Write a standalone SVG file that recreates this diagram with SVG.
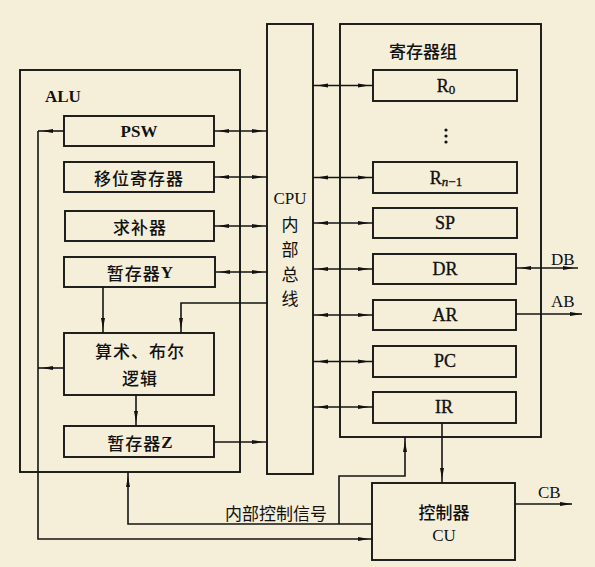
<svg xmlns="http://www.w3.org/2000/svg" width="595" height="567" viewBox="0 0 595 567">
<defs>
<marker id="ah" markerUnits="userSpaceOnUse" viewBox="0 0 15 6" markerWidth="15" markerHeight="6" refX="15" refY="3" orient="auto-start-reverse">
<path d="M0,1 L11,3 L0,5 z" fill="#111"/>
</marker>
<marker id="at" markerUnits="userSpaceOnUse" viewBox="0 0 12 6" markerWidth="12" markerHeight="6" refX="12" refY="3" orient="auto-start-reverse">
<path d="M0,1 L12,3 L0,5 z" fill="#111"/>
</marker>
<style>
.box{fill:none;stroke:#151515;stroke-width:1.9}
.ln{fill:none;stroke:#151515;stroke-width:1.6}
.d2{marker-start:url(#ah);marker-end:url(#ah)}
.d1{marker-end:url(#ah)}
.lat{font-family:"Liberation Serif","Times New Roman",serif;font-size:17px;fill:#111}
.cjk{font-family:"Noto Sans CJK SC","Noto Sans CJK JP",sans-serif;font-size:17px;fill:#111}
.bw{font-weight:bold}
.mw{font-weight:500}
.reg{font-size:18px;stroke:#111;stroke-width:0.35}
text{dominant-baseline:central}
</style>
</defs>
<rect x="0" y="0" width="595" height="567" fill="#f5efda"/>

<g id="alu">
<rect class="box" x="20" y="70" width="220" height="402"/>
<text class="lat bw" x="45" y="96">ALU</text>
</g>
<g id="psw">
<rect class="box" x="64" y="116" width="150" height="30"/>
<text class="lat bw" x="139" y="131" text-anchor="middle">PSW</text>
</g>
<g id="shift">
<rect class="box" x="64" y="162" width="150" height="30"/>
<text class="cjk mw" x="139" y="177" text-anchor="middle" letter-spacing="1">移位寄存器</text>
</g>
<g id="comp">
<rect class="box" x="65" y="211" width="149" height="30"/>
<text class="cjk mw" x="140" y="226" text-anchor="middle" letter-spacing="1">求补器</text>
</g>
<g id="tmpy">
<rect class="box" x="64" y="257" width="151" height="30"/>
<text x="140" y="272" text-anchor="middle"><tspan class="cjk mw" letter-spacing="1">暂存器</tspan><tspan class="lat bw">Y</tspan></text>
</g>
<g id="arith">
<rect class="box" x="64" y="333" width="150" height="62"/>
<text class="cjk mw" x="140" y="350" text-anchor="middle" letter-spacing="1">算术、布尔</text>
<text class="cjk mw" x="140" y="377" text-anchor="middle" letter-spacing="1">逻辑</text>
</g>
<g id="tmpz">
<rect class="box" x="64" y="426" width="150" height="31"/>
<text x="140" y="442" text-anchor="middle"><tspan class="cjk mw" letter-spacing="1">暂存器</tspan><tspan class="lat bw">Z</tspan></text>
</g>

<g id="bus">
<rect class="box" x="267" y="24" width="46" height="450"/>
<text class="lat" x="290" y="198" text-anchor="middle" font-size="19">CPU</text>
<text class="cjk" x="290" y="223" text-anchor="middle">内</text>
<text class="cjk" x="290" y="248" text-anchor="middle">部</text>
<text class="cjk" x="290" y="273" text-anchor="middle">总</text>
<text class="cjk" x="290" y="297" text-anchor="middle">线</text>
</g>

<g id="regs">
<rect class="box" x="340" y="24" width="201" height="413"/>
<text class="cjk mw" x="389" y="50" font-size="18">寄存器组</text>
</g>
<g id="r0">
<rect class="box" x="373" y="70" width="144" height="31"/>
<text class="lat reg" x="446" y="86" text-anchor="middle">R<tspan font-size="13" dy="3">0</tspan></text>
</g>
<g id="dots">
<circle cx="446" cy="130" r="1.6" fill="#111"/>
<circle cx="446" cy="136" r="1.6" fill="#111"/>
<circle cx="446" cy="142" r="1.6" fill="#111"/>
</g>
<g id="rn1">
<rect class="box" x="373" y="162" width="144" height="31"/>
<text class="lat reg" x="446" y="178" text-anchor="middle">R<tspan font-size="13" dy="3" font-style="italic">n</tspan><tspan font-size="13">−1</tspan></text>
</g>
<g id="sp">
<rect class="box" x="373" y="208" width="144" height="30"/>
<text class="lat reg" x="445" y="223" text-anchor="middle">SP</text>
</g>
<g id="dr">
<rect class="box" x="373" y="254" width="143" height="30"/>
<text class="lat reg" x="445" y="269" text-anchor="middle">DR</text>
</g>
<g id="ar">
<rect class="box" x="373" y="300" width="143" height="30"/>
<text class="lat reg" x="445" y="315" text-anchor="middle">AR</text>
</g>
<g id="pc">
<rect class="box" x="373" y="346" width="143" height="31"/>
<text class="lat reg" x="445" y="361" text-anchor="middle">PC</text>
</g>
<g id="ir">
<rect class="box" x="373" y="392" width="143" height="31"/>
<text class="lat reg" x="444" y="407" text-anchor="middle">IR</text>
</g>

<g id="cu">
<rect class="box" x="372" y="483" width="143" height="77"/>
<text class="cjk mw" x="444" y="511" text-anchor="middle" font-size="18">控制器</text>
<text class="lat" x="444" y="535" text-anchor="middle" font-size="18">CU</text>
</g>

<g id="connectors">
<path class="ln d2" d="M214,131 H267"/>
<path class="ln d2" d="M214,177 H267"/>
<path class="ln d2" d="M214,226 H267"/>
<path class="ln d2" d="M215,272 H267"/>
<path class="ln d1" d="M214,442 H267"/>
<path class="ln d1" d="M267,303 H181 V333"/>
<path class="ln d1" d="M103,287 V333"/>
<path class="ln d1" d="M136,395 V426"/>
<path class="ln d1" d="M64,131 H38"/>
<path class="ln d1" d="M64,368 H38"/>
<path class="ln d1" d="M38,131 V539 H373"/>
<path class="ln d2" d="M313,85.5 H373"/>
<path class="ln d2" d="M313,177.5 H373"/>
<path class="ln d2" d="M313,223 H373"/>
<path class="ln d2" d="M313,269 H373"/>
<path class="ln d2" d="M313,315 H373"/>
<path class="ln d2" d="M313,361.5 H373"/>
<path class="ln d2" d="M313,407 H373"/>
<path class="ln d2" d="M516,268 H578"/>
<path class="ln" d="M516,314 H582" marker-end="url(#at)"/>
<path class="ln d1" d="M372,524 H128 V472"/>
<path class="ln d1" d="M339,524 V476 H405 V437"/>
<path class="ln d1" d="M442,423 V483"/>
<path class="ln" d="M515,504 H572" marker-end="url(#at)"/>
<text class="lat" x="551" y="259" font-size="18">DB</text>
<text class="lat" x="551" y="301" font-size="18">AB</text>
<text class="lat" x="538" y="492" font-size="18">CB</text>
<text class="cjk" x="225" y="512">内部控制信号</text>
</g>
</svg>
